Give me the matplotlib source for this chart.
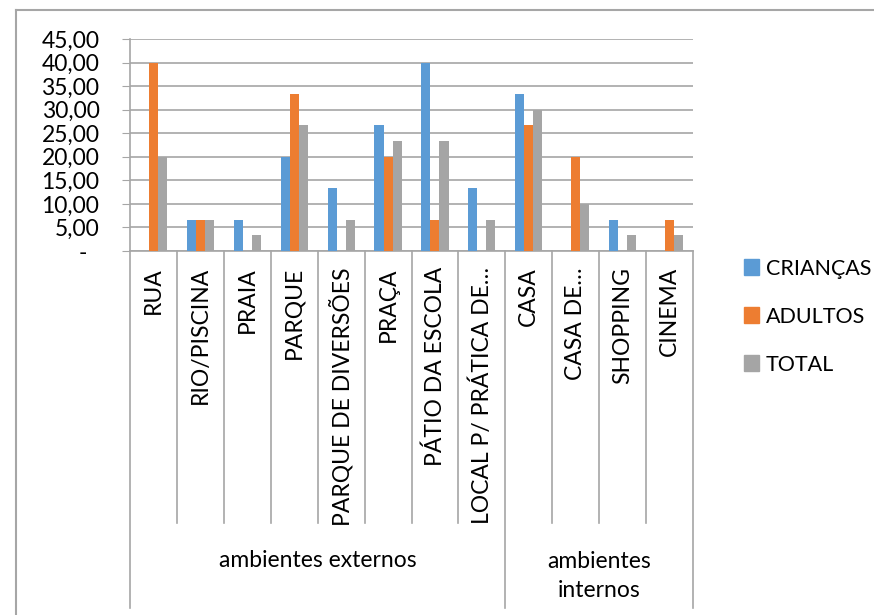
import matplotlib
matplotlib.use('Agg')
import matplotlib.pyplot as plt
import matplotlib.transforms as mtransforms
from matplotlib.lines import Line2D
from matplotlib.patches import Patch
import numpy as np

plt.rcParams['font.family'] = ['Lato', 'DejaVu Sans']

# dados
categorias = ['RUA', 'RIO/PISCINA', 'PRAIA', 'PARQUE', 'PARQUE DE DIVERSÕES',
              'PRAÇA', 'PÁTIO DA ESCOLA', 'LOCAL P/ PRÁTICA DE…',
              'CASA', 'CASA DE…', 'SHOPPING', 'CINEMA']
grupos = ['ambientes externos', 'ambientes\ninternos']
tamanho_grupos = [8, 4]
series = ['CRIANÇAS', 'ADULTOS', 'TOTAL']
criancas = [0, 6.67, 6.67, 20, 13.33, 26.67, 40, 13.33, 33.33, 0, 6.67, 0]
adultos = [40, 6.67, 0, 33.33, 0, 20, 6.67, 0, 26.67, 20, 0, 6.67]
total = [20, 6.67, 3.33, 26.67, 6.67, 23.33, 23.33, 6.67, 30, 10, 3.33, 3.33]
yticks = [0, 5, 10, 15, 20, 25, 30, 35, 40, 45]

cores = ['#5B9BD5', '#ED7D31', '#A5A5A5']
cinza = '#a6a6a6'
fs = 16.5

W, H = 874, 615
fig = plt.figure(figsize=(W / 100, H / 100), dpi=100)
# área do gráfico em pixels: x 130-693, y 39-251
ax = fig.add_axes([130 / W, 1 - 251 / H, (693 - 130) / W, (251 - 39) / H])
alt_px = 251 - 39

n = len(categorias)
x = np.arange(n) + 0.5
larg = 0.193
for k, (vals, cor) in enumerate(zip([criancas, adultos, total], cores)):
    ax.bar(x + (k - 1) * larg, vals, width=larg, color=cor, linewidth=0, zorder=3)

ax.set_xlim(0, n)
ax.set_ylim(0, 45)
ax.set_xticks([])
ax.set_yticks(yticks)
rotulos = [f'{v:.2f}'.replace('.', ',') if v else '-  ' for v in yticks]
ax.set_yticklabels(rotulos)
ax.tick_params(axis='y', length=6, color=cinza, pad=16, labelsize=fs)
ax.yaxis.grid(True, color=cinza, lw=1.2)
ax.set_axisbelow(True)
for s in ['top', 'right']:
    ax.spines[s].set_visible(False)
for s in ['left', 'bottom']:
    ax.spines[s].set_color(cinza)
    ax.spines[s].set_linewidth(1.2)

trans = mtransforms.blended_transform_factory(ax.transData, ax.transAxes)
fim_cat = -(523 - 251) / alt_px
fim_grp = -(608 - 251) / alt_px
limites = np.cumsum([0] + tamanho_grupos)
for i in range(n + 1):
    y_fim = fim_grp if i in limites else fim_cat
    ax.plot([i, i], [0, y_fim], color=cinza, lw=1.2, transform=trans, clip_on=False)

for xi, lab in zip(x, categorias):
    ax.text(xi, -16 / alt_px, lab, rotation=90, ha='center', va='top',
            transform=trans, fontsize=fs)

for g, ini, tam in zip(grupos, limites[:-1], tamanho_grupos):
    yc = -(560 - 251) / alt_px if '\n' not in g else -(576 - 251) / alt_px
    ax.text(ini + tam / 2, yc, g, ha='center', va='center', transform=trans,
            fontsize=fs, linespacing=1.45)

handles = [Patch(color=c) for c in cores]
fig.legend(handles, series, loc='upper left', bbox_to_anchor=(735 / W, 1 - 250 / H),
           frameon=False, fontsize=15.5, handlelength=0.72, handleheight=0.72,
           handletextpad=0.3, labelspacing=1.3, borderaxespad=0)

# moldura do gráfico
fig.add_artist(Line2D([16 / W, 16 / W], [0, 1 - 10 / H], transform=fig.transFigure,
                      color=cinza, lw=1.5))
fig.add_artist(Line2D([16 / W, 1], [1 - 10 / H, 1 - 10 / H], transform=fig.transFigure,
                      color=cinza, lw=1.5))

fig.savefig('out.png', dpi=100)
